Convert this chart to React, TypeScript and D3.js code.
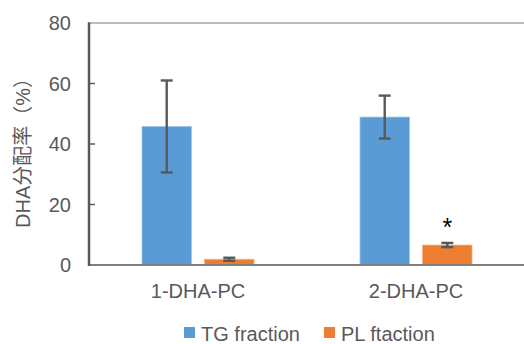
import React from 'react';
import * as d3 from 'd3';

const categories = ['1-DHA-PC', '2-DHA-PC'];
const seriesNames = ['TG fraction', 'PL ftaction'];
const tgValues = [45.8, 48.9];
const tgErrors = [15.2, 7.1];
const plValues = [1.9, 6.6];
const plErrors = [0.5, 0.7];
const yTicks = [0, 20, 40, 60, 80];
const colors = ['#5B9BD5', '#ED7D31'];

const w = 524;
const h = 344;
const left = 89;
const right = 525;
const top = 23;
const bottom = 265;
const font = '"Liberation Sans", Arial, sans-serif';

const App = () => {
  const x0 = d3.scaleBand().domain(categories).range([left, right]).padding(0);
  const x1 = d3.scaleBand().domain(seriesNames).range([0, 112]).paddingInner(0.21);
  const y = d3.scaleLinear().domain([0, 80]).range([bottom, top]);

  const values = [tgValues, plValues];
  const errors = [tgErrors, plErrors];

  const bars = categories.flatMap((c, i) =>
    seriesNames.map((s, j) => {
      const bx = (x0(c) as number) + x0.bandwidth() / 2 - 56 + (x1(s) as number);
      return { c, s, j, x: bx, v: values[j][i], e: errors[j][i] };
    })
  );

  return (
    <svg width={w} height={h} style={{ position: 'absolute', left: 0, top: 0 }} fontFamily={font}>
      <rect width={w} height={h} fill="#fff" />
      {/* top frame line */}
      <line x1={left} x2={w} y1={y(80)} y2={y(80)} stroke="#a6a6a6" strokeWidth={1.5} />
      {bars.map((b) => (
        <rect
          key={b.c + b.s}
          x={b.x}
          y={y(b.v)}
          width={x1.bandwidth()}
          height={y(0) - y(b.v)}
          fill={colors[b.j]}
          stroke={b.j === 0 ? '#9dc3e6' : '#f4b183'}
          strokeWidth={0.8}
        />
      ))}
      {bars.map((b) => {
        const cx = b.x + x1.bandwidth() / 2;
        return (
          <g key={'e' + b.c + b.s} stroke="#595959" strokeWidth={2.4}>
            <line x1={cx} x2={cx} y1={y(b.v + b.e)} y2={y(b.v - b.e)} />
            <line x1={cx - 6} x2={cx + 6} y1={y(b.v + b.e)} y2={y(b.v + b.e)} />
            <line x1={cx - 6} x2={cx + 6} y1={y(b.v - b.e)} y2={y(b.v - b.e)} />
          </g>
        );
      })}
      {/* significance mark */}
      <text
        x={bars[3].x + x1.bandwidth() / 2}
        y={y(bars[3].v + bars[3].e) - 7}
        textAnchor="middle"
        fontSize={25}
        fill="#000"
      >
        *
      </text>
      {/* x axis */}
      <line x1={left} x2={w} y1={bottom} y2={bottom} stroke="#808080" strokeWidth={2} />
      {/* y axis */}
      <line x1={left} x2={left} y1={top - 0.75} y2={bottom + 1} stroke="#595959" strokeWidth={2.5} />
      {yTicks.map((t) => (
        <g key={t}>
          {t > 0 && t < 80 && (
            <line x1={left} x2={left + 6} y1={y(t)} y2={y(t)} stroke="#595959" strokeWidth={1.5} />
          )}
          <text x={71} y={y(t)} dy="0.36em" textAnchor="end" fontSize={20} fill="#595959">
            {t}
          </text>
        </g>
      ))}
      {categories.map((c) => (
        <text
          key={c}
          x={(x0(c) as number) + x0.bandwidth() / 2}
          y={298}
          textAnchor="middle"
          fontSize={20}
          fill="#595959"
        >
          {c}
        </text>
      ))}
      <text
        transform={`translate(30,148) rotate(-90)`}
        textAnchor="middle"
        fontSize={20}
        fill="#595959"
        fontFamily={'"Liberation Sans", "Noto Sans CJK SC", sans-serif'}
      >
        DHA分配率（%）
      </text>
      {/* legend */}
      {seriesNames.map((s, j) => {
        const lx = j === 0 ? 184 : 324;
        return (
          <g key={s}>
            <rect x={lx} y={327} width={11} height={11} fill={colors[j]} />
            <text x={lx + 17} y={341} fontSize={20} fill="#595959">
              {s}
            </text>
          </g>
        );
      })}
    </svg>
  );
};

export default App;
